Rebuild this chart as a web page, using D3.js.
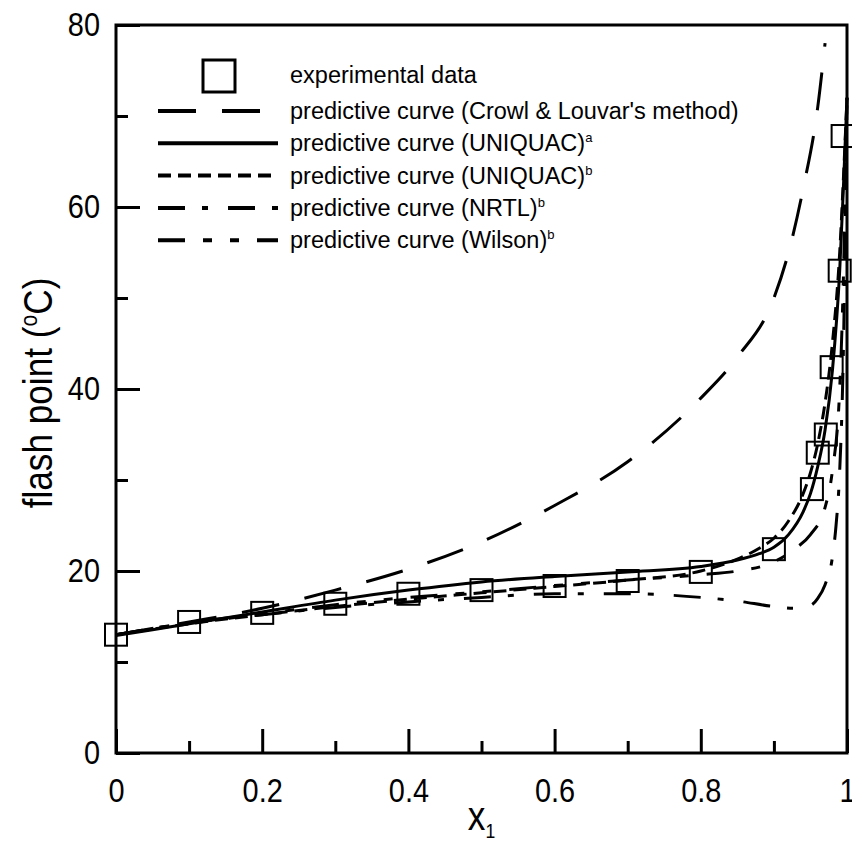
<!DOCTYPE html>
<html>
<head>
<meta charset="utf-8">
<script src="https://cdn.jsdelivr.net/npm/d3@7"></script>
<style>
  body { margin: 0; background: #fff; }
  svg { display: block; }
  .tick-label { font-family: "Liberation Sans", Arial, sans-serif; }
  .legend text { font-family: "Liberation Sans", Arial, sans-serif; }
</style>
</head>
<body>
<svg></svg>
<script>
const width = 852
const height = 841
const margin = {top: 25, right: 5, bottom: 88, left: 116}

// 实验数据
const expX = [0, 0.1, 0.2, 0.3, 0.4, 0.5, 0.6, 0.7, 0.8, 0.9, 0.952, 0.96, 0.971, 0.979, 0.99, 0.994]
const expT = [13.0, 14.4, 15.4, 16.4, 17.5, 17.9, 18.35, 18.9, 19.9, 22.4, 29.0, 33.0, 35.0, 42.4, 53.0, 67.8]

// 预测曲线
const crowlX = [0, 0.1, 0.2, 0.3, 0.4, 0.5, 0.6, 0.7, 0.8, 0.85, 0.9, 0.92, 0.94, 0.96, 0.97]
const crowlT = [13.0, 14.4, 15.9, 17.9, 20.2, 23.2, 27.2, 32.0, 39.0, 43.5, 50.0, 55.0, 62.0, 71.0, 78.0]

const uniqX = [0, 0.1, 0.2, 0.3, 0.4, 0.5, 0.6, 0.7, 0.8, 0.85, 0.88, 0.9, 0.92, 0.94, 0.95, 0.96, 0.97, 0.98, 0.99, 0.995, 1]
const uniqAT = [12.9, 14.2, 15.5, 16.8, 17.9, 18.8, 19.4, 19.9, 20.5, 21.2, 21.9, 22.6, 24.0, 26.5, 28.5, 31.5, 35.5, 42.0, 53.0, 62.0, 72.0]
const uniqBT = [13.0, 14.2, 15.2, 16.1, 16.9, 17.6, 18.3, 19.0, 20.0, 21.3, 22.5, 23.6, 25.5, 28.5, 30.8, 34.0, 38.5, 45.0, 55.0, 63.0, 72.0]

const nrtlX = [0, 0.1, 0.2, 0.3, 0.4, 0.5, 0.6, 0.7, 0.8, 0.85, 0.9, 0.93, 0.95, 0.96, 0.97, 0.98, 0.985, 0.99, 0.995, 1]
const nrtlT = [13.0, 14.3, 15.2, 16.0, 16.6, 17.1, 17.5, 17.5, 17.1, 16.7, 16.1, 15.9, 16.2, 17.0, 18.5, 21.5, 25.0, 31.0, 44.0, 72.0]

const wilsonX = [0, 0.1, 0.2, 0.3, 0.4, 0.5, 0.6, 0.7, 0.8, 0.85, 0.9, 0.93, 0.95, 0.97, 0.98, 0.99, 0.995, 1]
const wilsonT = [13.0, 14.3, 15.3, 16.3, 17.1, 17.7, 18.4, 19.0, 19.6, 20.0, 21.0, 22.5, 24.0, 27.0, 31.0, 40.0, 52.0, 72.0]

// 刻度
const xMajor = [0, 0.2, 0.4, 0.6, 0.8, 1]
const xMinor = [0.1, 0.3, 0.5, 0.7, 0.9]
const yMajor = [0, 20, 40, 60, 80]
const yMinor = [10, 30, 50, 70]

const series = [
  {name: "predictive curve (Crowl & Louvar's method)", sup: '', x: crowlX, y: crowlT, dash: '38,26'},
  {name: 'predictive curve (UNIQUAC)', sup: 'a', x: uniqX, y: uniqAT, dash: null},
  {name: 'predictive curve (UNIQUAC)', sup: 'b', x: uniqX, y: uniqBT, dash: '13,7'},
  {name: 'predictive curve (NRTL)', sup: 'b', x: nrtlX, y: nrtlT, dash: '27,17,6,20'},
  {name: 'predictive curve (Wilson)', sup: 'b', x: wilsonX, y: wilsonT, dash: '27,18,9,18,9,18'}
]

const svg = d3.select('svg').attr('width', width).attr('height', height)

const x = d3.scaleLinear().domain([0, 1]).range([margin.left, width - margin.right])
const y = d3.scaleLinear().domain([0, 80]).range([height - margin.bottom, margin.top])

const sx = 0.85  // 窄体字

// 坐标轴
const xAxisG = svg.append('g').attr('transform', `translate(0,${y(0)})`)
xAxisG.call(d3.axisBottom(x).tickValues(xMajor).tickSize(-24).tickPadding(34).tickFormat(d => d))
svg.append('g').attr('transform', `translate(0,${y(0)})`)
  .call(d3.axisBottom(x).tickValues(xMinor).tickSize(-12).tickFormat(''))

const yAxisG = svg.append('g').attr('transform', `translate(${x(0)},0)`)
yAxisG.call(d3.axisLeft(y).tickValues(yMajor).tickSize(-24).tickPadding(16).tickFormat(d => d))
svg.append('g').attr('transform', `translate(${x(0)},0)`)
  .call(d3.axisLeft(y).tickValues(yMinor).tickSize(-12).tickFormat(''))

svg.selectAll('.domain').remove()
svg.selectAll('.tick line').attr('stroke', '#000').attr('stroke-width', 3)
svg.selectAll('.tick text').attr('class', 'tick-label').attr('fill', '#000').attr('font-size', 34)
  .attr('transform', `scale(${sx},1)`)
xAxisG.selectAll('text').attr('dy', '0.45em')
yAxisG.selectAll('text').attr('x', -16 / sx)

// 边框
svg.append('rect')
  .attr('x', x(0)).attr('y', y(80))
  .attr('width', x(1) - x(0)).attr('height', y(0) - y(80))
  .attr('fill', 'none').attr('stroke', '#000').attr('stroke-width', 3)

// 曲线
const line = d3.line().x(d => x(d[0])).y(d => y(d[1])).curve(d3.curveMonotoneX)
const plot = svg.append('g')
series.forEach(s => {
  plot.append('path')
    .datum(s.x.map((v, i) => [v, s.y[i]]))
    .attr('d', line)
    .attr('fill', 'none').attr('stroke', '#000').attr('stroke-width', 3)
    .attr('stroke-dasharray', s.dash)
})

// 实验点
plot.selectAll('.pt').data(expX.map((v, i) => [v, expT[i]])).enter().append('rect')
  .attr('x', d => x(d[0]) - 11).attr('y', d => y(d[1]) - 11)
  .attr('width', 22).attr('height', 22)
  .attr('fill', 'none').attr('stroke', '#000').attr('stroke-width', 2)

// 图例
const legend = svg.append('g').attr('class', 'legend')
const lx0 = 158, lx1 = 278, tx = 290, ly0 = 75, ly1 = 111, ldy = 32.3, fs = 23.5
legend.append('rect').attr('x', 203).attr('y', ly0 - 15).attr('width', 32).attr('height', 32)
  .attr('fill', 'none').attr('stroke', '#000').attr('stroke-width', 3)
legend.append('text').attr('x', tx).attr('y', ly0 + 8).attr('font-size', fs).text('experimental data')
series.forEach((s, i) => {
  const ly = ly1 + ldy * i
  legend.append('line').attr('x1', lx0).attr('x2', lx1).attr('y1', ly).attr('y2', ly)
    .attr('stroke', '#000').attr('stroke-width', 4).attr('stroke-dasharray', s.dash)
  const t = legend.append('text').attr('x', tx).attr('y', ly + 8).attr('font-size', fs)
  t.append('tspan').text(s.name)
  if (s.sup) t.append('tspan').attr('font-size', 13).attr('dy', -9).text(s.sup)
})

// 轴标题
const yl = svg.append('text').attr('class', 'tick-label')
  .attr('transform', `translate(52,${(y(0) + y(80)) / 2 + 4}) rotate(-90) scale(0.88,1)`)
  .attr('text-anchor', 'middle').attr('font-size', 40)
yl.append('tspan').text('flash point (')
yl.append('tspan').attr('font-size', 24).attr('dy', -15).text('o')
yl.append('tspan').attr('dy', 15).text('C)')

const xl = svg.append('text').attr('class', 'tick-label')
  .attr('transform', `translate(${(x(0) + x(1)) / 2},830) scale(0.88,1)`)
  .attr('text-anchor', 'middle').attr('font-size', 40)
xl.append('tspan').text('x')
xl.append('tspan').attr('font-size', 20).attr('dy', 8).text('1')
</script>
</body>
</html>
